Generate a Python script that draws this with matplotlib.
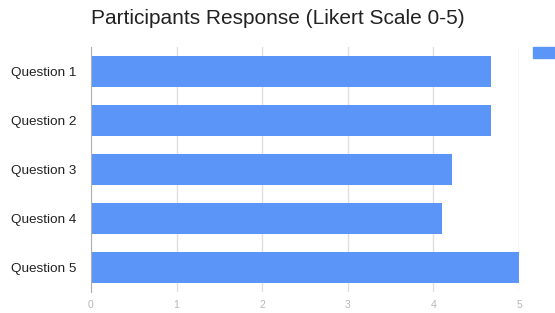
import matplotlib.pyplot as plt
from matplotlib.patches import Rectangle

questions = ['Question 1', 'Question 2', 'Question 3', 'Question 4', 'Question 5']
scores = [4.67, 4.67, 4.22, 4.10, 5.0]
xticks = [0, 1, 2, 3, 4, 5]

plt.rcParams['font.family'] = ['Liberation Sans', 'DejaVu Sans']

W, H = 555, 313
fig = plt.figure(figsize=(W / 100, H / 100), dpi=100)
ax = fig.add_axes([91 / W, 1 - 292 / H, (519 - 91) / W, (292 - 47) / H])

blue = '#5b95f7'
ax.barh(questions, scores, height=0.63, color=blue, zorder=3)
ax.set_xlim(0, 5)
ax.set_ylim(4.5, -0.5)
ax.set_xticks(xticks)
ax.set_xticklabels([str(t) for t in xticks])
ax.grid(axis='x', color='#e0e0e0', linewidth=1, zorder=0)
for s in ['top', 'right', 'bottom']:
    ax.spines[s].set_visible(False)
ax.spines['left'].set_color('#b0b0b0')
ax.spines['left'].set_zorder(4)
ax.tick_params(axis='x', length=0, labelsize=7.5, labelcolor='#b8b8b8', pad=6)
ax.tick_params(axis='y', length=0, labelsize=9.7, labelcolor='#222222', pad=10.5)

fig.text(91 / W, 1 - 19 / H, 'Participants Response (Likert Scale 0-5)',
         fontsize=15, color='#222222', va='center', ha='left')

# legend swatch, clipped at the right edge as in the original
fig.patches.append(Rectangle((533 / W, 1 - 58 / H), 30 / W, 11 / H,
                             transform=fig.transFigure, color=blue))

fig.savefig('out.png', dpi=100)
